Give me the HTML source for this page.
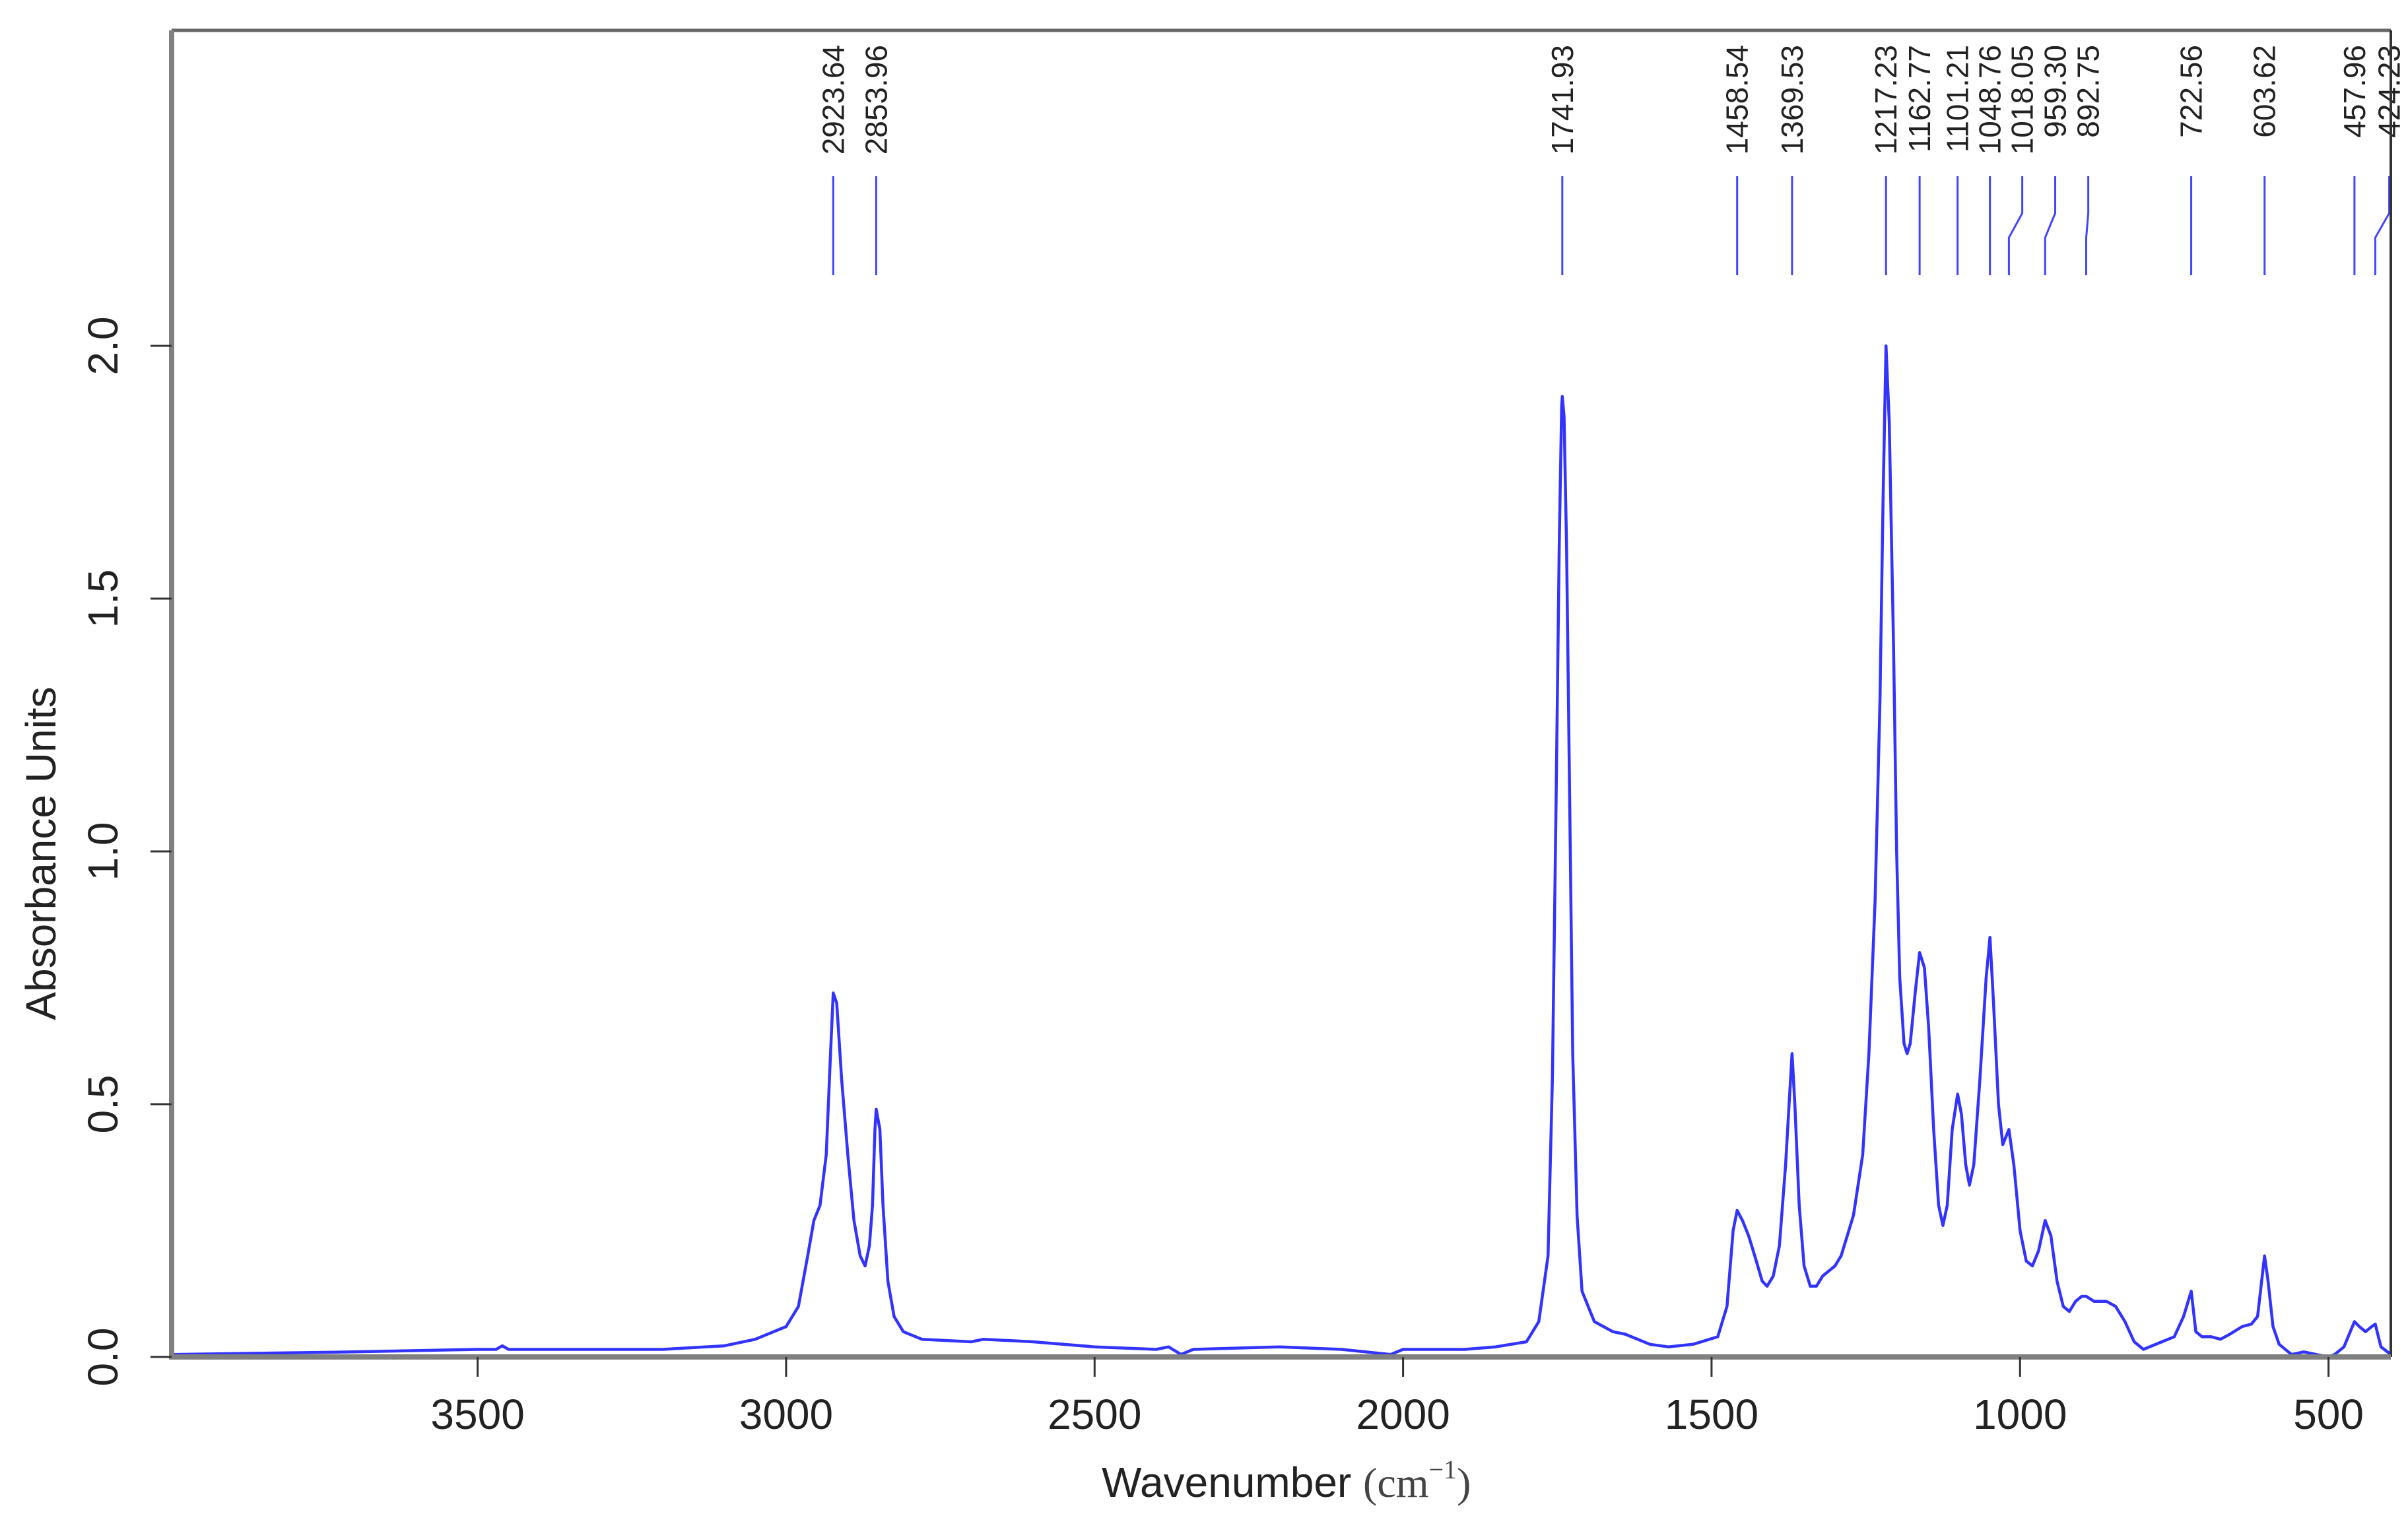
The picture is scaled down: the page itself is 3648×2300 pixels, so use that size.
<!DOCTYPE html>
<html><head><meta charset="utf-8"><style>
html,body{margin:0;padding:0;background:#fff;}
svg{display:block;}
text{font-family:"Liberation Sans",sans-serif;fill:#222;}
</style></head><body>
<svg id="chart" width="3648" height="2300" viewBox="0 0 3648 2300" xmlns="http://www.w3.org/2000/svg">
<rect x="0" y="0" width="3648" height="2300" fill="#fff"/>
<g id="plot"></g>
<g id="axes"></g>
</svg>
<script>
const wavenumbers = [3996,3700,3500,3470,3460,3450,3200,3100,3050,3000,2980,2965,2955,2945,2935,2928,2923.64,2918,2910,2900,2890,2880,2872,2865,2860,2856,2853.96,2848,2843,2835,2825,2810,2780,2700,2680,2600,2500,2400,2380,2360,2340,2200,2100,2020,2000,1900,1850,1800,1780,1765,1758,1752,1747,1743,1741.93,1739,1735,1730,1725,1718,1710,1690,1660,1640,1600,1570,1530,1490,1475,1465,1458.54,1450,1440,1430,1418,1410,1400,1390,1380,1372,1369.53,1365,1358,1350,1340,1330,1320,1300,1290,1270,1255,1245,1235,1227,1222,1217.23,1212,1205,1200,1195,1188,1183,1178,1170,1162.77,1155,1148,1140,1132,1125,1118,1110,1101.21,1095,1088,1082,1075,1065,1055,1048.76,1043,1035,1028,1018.05,1010,1000,990,980,970,959.30,950,940,930,920,910,900,892.75,880,860,845,830,815,800,790,770,750,735,722.56,715,705,690,675,660,640,625,615,603.62,598,590,580,560,540,520,500,490,475,457.96,450,440,430,424.23,415,399];
const absorbance = [0.005,0.01,0.015,0.015,0.022,0.015,0.015,0.022,0.035,0.06,0.1,0.2,0.27,0.3,0.4,0.6,0.72,0.7,0.55,0.4,0.27,0.2,0.18,0.22,0.3,0.45,0.49,0.45,0.3,0.15,0.08,0.05,0.035,0.03,0.035,0.03,0.02,0.015,0.02,0.005,0.015,0.02,0.015,0.005,0.015,0.015,0.02,0.03,0.07,0.2,0.55,1.1,1.6,1.88,1.9,1.86,1.6,1.1,0.6,0.28,0.13,0.07,0.05,0.045,0.025,0.02,0.025,0.04,0.1,0.25,0.29,0.27,0.24,0.2,0.15,0.14,0.16,0.22,0.38,0.55,0.6,0.5,0.3,0.18,0.14,0.14,0.16,0.18,0.2,0.28,0.4,0.6,0.9,1.3,1.7,2.0,1.85,1.4,1.0,0.75,0.62,0.6,0.62,0.72,0.8,0.77,0.65,0.45,0.3,0.26,0.3,0.45,0.52,0.48,0.38,0.34,0.38,0.55,0.75,0.83,0.7,0.5,0.42,0.45,0.38,0.25,0.19,0.18,0.21,0.27,0.24,0.15,0.1,0.09,0.11,0.12,0.12,0.11,0.11,0.1,0.07,0.03,0.015,0.02,0.03,0.04,0.08,0.13,0.05,0.04,0.04,0.035,0.045,0.06,0.065,0.08,0.2,0.15,0.06,0.025,0.005,0.01,0.005,0,0.005,0.02,0.07,0.06,0.05,0.06,0.065,0.02,0.005];
const peakLabels = ["2923.64","2853.96","1741.93","1458.54","1369.53","1217.23","1162.77","1101.21","1048.76","1018.05","959.30","892.75","722.56","603.62","457.96","424.23"];
const peakPositions = [2923.64,2853.96,1741.93,1458.54,1369.53,1217.23,1162.77,1101.21,1048.76,1018.05,959.30,892.75,722.56,603.62,457.96,424.23];
const labelPositions = [2923.64,2853.96,1741.93,1458.54,1369.53,1217.23,1162.77,1101.21,1048.76,996.4,943,889.4,722.56,603.62,457.96,401.6];
const xTicks = [3500,3000,2500,2000,1500,1000,500];
const yTicks = [0,0.5,1.0,1.5,2.0];
const yTickLabels = ["0.0","0.5","1.0","1.5","2.0"];

const NS = "http://www.w3.org/2000/svg";
const PL = 260, PR = 3622, PT = 46, PB = 2056;
const WMAX = 3996, WMIN = 399;
function xs(w){ return PL + (WMAX - w) / (WMAX - WMIN) * (PR - PL); }
function ys(a){ return PB - a * 766; }
function mk(tag, attrs, parent){ const e = document.createElementNS(NS, tag); for (const k in attrs) e.setAttribute(k, attrs[k]); parent.appendChild(e); return e; }
const plotG = document.getElementById('plot');
const axesG = document.getElementById('axes');

let d = '';
for (let i = 0; i < wavenumbers.length; i++) d += (i ? 'L' : 'M') + xs(wavenumbers[i]).toFixed(1) + ' ' + ys(absorbance[i]).toFixed(1);
const specLine = mk('path', {d: d, fill: 'none', stroke: '#3333ff', 'stroke-width': 4.5, 'stroke-linejoin': 'round'}, plotG);



for (let i = 0; i < peakPositions.length; i++) {
  const xp = xs(peakPositions[i]), xl = xs(labelPositions[i]);
  let pd;
  if (Math.abs(xp - xl) < 1) pd = `M${xp} 267L${xp} 417`;
  else pd = `M${xl} 267L${xl} 323L${xp} 360L${xp} 417`;
  const m = mk('path', {d: pd, fill: 'none', stroke: '#4444ff', 'stroke-width': 3}, plotG);
  
  
  const t = mk('text', {x: 0, y: 0, transform: `translate(${xl + 16},68) rotate(-90)`, 'text-anchor': 'end', 'font-size': 46}, plotG);
  t.textContent = peakLabels[i];
  
  
}

const frameTop = mk('line', {x1: PL, y1: PT, x2: PR, y2: PT, stroke: '#666', 'stroke-width': 5}, axesG);


const frameRight = mk('line', {x1: PR, y1: PT, x2: PR, y2: PB, stroke: '#333', 'stroke-width': 4}, axesG);


const yAxisLine = mk('line', {x1: PL, y1: PT, x2: PL, y2: PB + 4, stroke: '#808080', 'stroke-width': 8}, axesG);


const xAxisLine = mk('line', {x1: PL - 4, y1: PB, x2: PR, y2: PB, stroke: '#808080', 'stroke-width': 8}, axesG);



for (let i = 0; i < xTicks.length; i++) {
  const x = xs(xTicks[i]);
  const tk = mk('line', {x1: x, y1: PB, x2: x, y2: PB + 30, stroke: '#333', 'stroke-width': 3}, axesG);
  
  
  const t = mk('text', {x: x, y: 2165, 'text-anchor': 'middle', 'font-size': 64}, axesG);
  t.textContent = String(xTicks[i]);
  
  
}
for (let i = 0; i < yTicks.length; i++) {
  const y = ys(yTicks[i]);
  const tk = mk('line', {x1: PL - 32, y1: y, x2: PL, y2: y, stroke: '#333', 'stroke-width': 3}, axesG);
  
  
  const t = mk('text', {x: 0, y: 0, transform: `translate(178,${y}) rotate(-90)`, 'text-anchor': 'middle', 'font-size': 64}, axesG);
  t.textContent = yTickLabels[i];
  
  
}
</script>
<svg style="position:absolute;left:0;top:0" width="3648" height="2300">
<text transform="translate(84,1293) rotate(-90)" text-anchor="middle" font-size="64" style="font-family:'Liberation Sans',sans-serif;fill:#222">Absorbance Units</text>
<text x="1669" y="2268" font-size="64" style="font-family:'Liberation Sans',sans-serif;fill:#222">Wavenumber <tspan style="font-family:'Liberation Serif',serif;fill:#444">(cm</tspan><tspan style="font-family:'Liberation Serif',serif;fill:#444" font-size="40" dy="-28">−1</tspan><tspan style="font-family:'Liberation Serif',serif;fill:#444" dy="28">)</tspan></text>
</svg>
</body></html>
